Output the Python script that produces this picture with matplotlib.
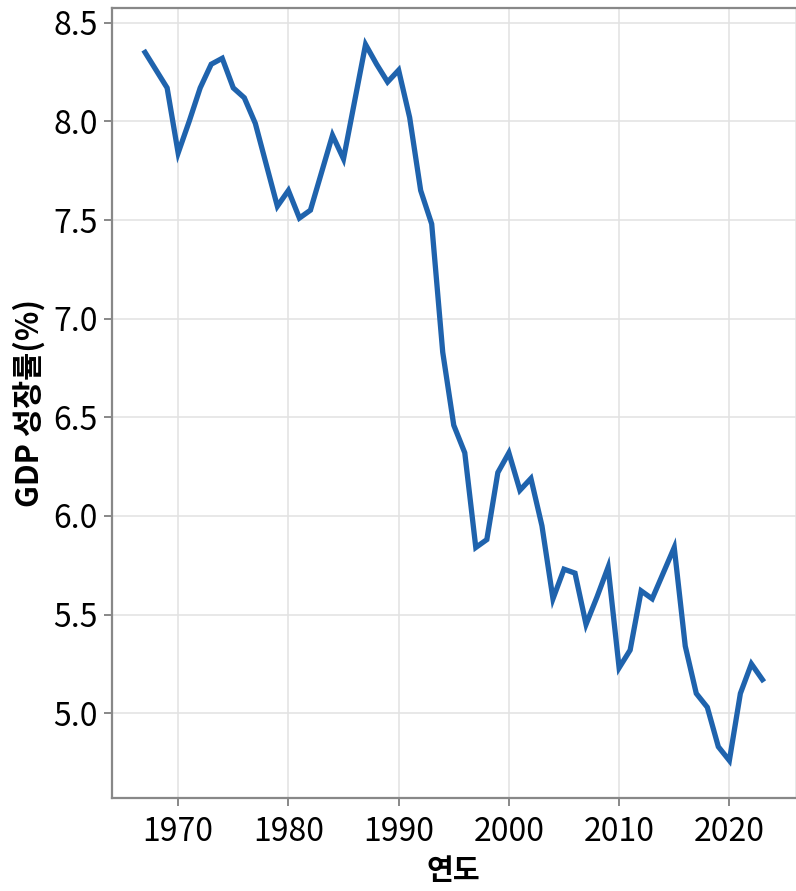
import matplotlib
matplotlib.use("Agg")
import matplotlib.pyplot as plt

plt.rcParams["font.family"] = ["Noto Sans CJK KR", "DejaVu Sans"]

years = list(range(1967, 2024))
growth = [
    8.35, 8.26, 8.17, 7.84, 8.00, 8.17, 8.29, 8.32, 8.17, 8.12,  # 1967-1976
    7.99, 7.78, 7.57, 7.65, 7.51, 7.55, 7.74, 7.93, 7.81, 8.10,  # 1977-1986
    8.39, 8.29, 8.20, 8.26, 8.02, 7.65, 7.48, 6.83, 6.46, 6.32,  # 1987-1996
    5.84, 5.88, 6.22, 6.32, 6.13, 6.19, 5.95, 5.58, 5.73, 5.71,  # 1997-2006
    5.45, 5.59, 5.74, 5.23, 5.32, 5.62, 5.58, 5.71, 5.84, 5.34,  # 2007-2016
    5.10, 5.03, 4.83, 4.76, 5.10, 5.25, 5.17,                    # 2017-2023
]
x_ticks = [1970, 1980, 1990, 2000, 2010, 2020]
y_ticks = [5.0, 5.5, 6.0, 6.5, 7.0, 7.5, 8.0, 8.5]

fig = plt.figure(figsize=(7.96, 8.91), dpi=100)
ax = fig.add_axes([112 / 796, 93 / 891, 683.5 / 796, 790 / 891])

ax.plot(years, growth, color="#1f63ad", linewidth=3.8, solid_joinstyle="miter")

ax.set_xlim(1964, 2026)
ax.set_ylim(4.57, 8.575)
ax.set_xticks(x_ticks)
ax.set_xticklabels([str(y) for y in x_ticks])
ax.set_yticks(y_ticks)
ax.set_yticklabels([f"{v:.1f}" for v in y_ticks])

ax.grid(True, color="#e2e2e2", linewidth=1.1)
ax.set_axisbelow(True)

for side in ["left", "bottom", "top"]:
    ax.spines[side].set_color("#888888")
    ax.spines[side].set_linewidth(1.6)
ax.spines["right"].set_color("#e2e2e2")
ax.spines["right"].set_linewidth(1.1)

ax.tick_params(axis="both", length=6, width=1.4, color="#888888",
               labelsize=23, labelcolor="black")
ax.tick_params(axis="x", pad=7)
ax.tick_params(axis="y", pad=4)

ax.set_xlabel("연도", fontsize=21, fontweight="bold", labelpad=6)
ax.set_ylabel("GDP 성장률(%)", fontsize=22, fontweight="bold", labelpad=6)

fig.savefig("out.png", dpi=100)
